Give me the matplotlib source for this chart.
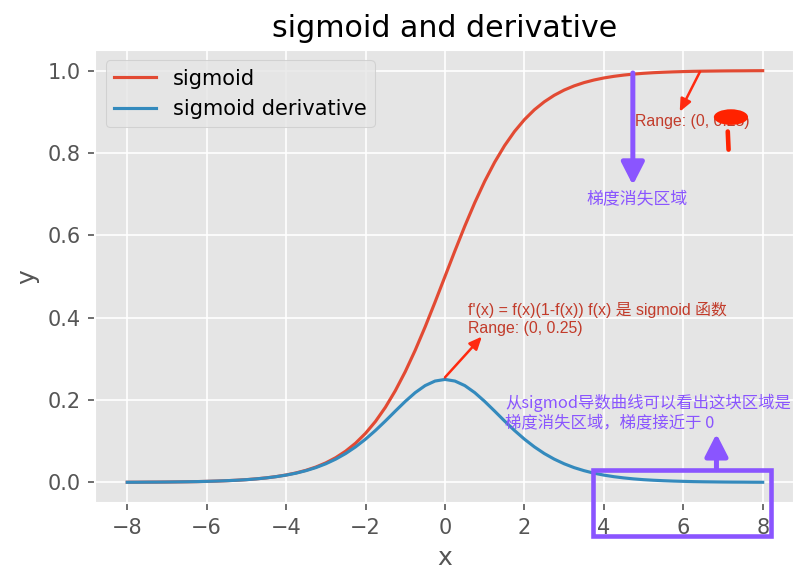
import matplotlib
matplotlib.use("Agg")
import matplotlib.pyplot as plt
from matplotlib.patches import Rectangle, Ellipse

plt.style.use("ggplot")

x_vals = [-8.0, -7.75, -7.5, -7.25, -7.0, -6.75, -6.5, -6.25, -6.0, -5.75, -5.5, -5.25,
          -5.0, -4.75, -4.5, -4.25, -4.0, -3.75, -3.5, -3.25, -3.0, -2.75, -2.5, -2.25,
          -2.0, -1.75, -1.5, -1.25, -1.0, -0.75, -0.5, -0.25, 0.0, 0.25, 0.5, 0.75,
          1.0, 1.25, 1.5, 1.75, 2.0, 2.25, 2.5, 2.75, 3.0, 3.25, 3.5, 3.75,
          4.0, 4.25, 4.5, 4.75, 5.0, 5.25, 5.5, 5.75, 6.0, 6.25, 6.5, 6.75,
          7.0, 7.25, 7.5, 7.75, 8.0]

sigmoid_vals = [0.0003, 0.0004, 0.0006, 0.0007, 0.0009, 0.0012, 0.0015, 0.0019, 0.0025,
                0.0032, 0.0041, 0.0052, 0.0067, 0.0086, 0.0110, 0.0141, 0.0180, 0.0230,
                0.0293, 0.0373, 0.0474, 0.0601, 0.0759, 0.0953, 0.1192, 0.1480, 0.1824,
                0.2227, 0.2689, 0.3208, 0.3775, 0.4378, 0.5000, 0.5622, 0.6225, 0.6792,
                0.7311, 0.7773, 0.8176, 0.8520, 0.8808, 0.9047, 0.9241, 0.9399, 0.9526,
                0.9627, 0.9707, 0.9770, 0.9820, 0.9859, 0.9890, 0.9914, 0.9933, 0.9948,
                0.9959, 0.9968, 0.9975, 0.9981, 0.9985, 0.9988, 0.9991, 0.9993, 0.9994,
                0.9996, 0.9997]

derivative_vals = [0.0003, 0.0004, 0.0006, 0.0007, 0.0009, 0.0012, 0.0015, 0.0019, 0.0025,
                   0.0032, 0.0041, 0.0052, 0.0066, 0.0085, 0.0109, 0.0139, 0.0177, 0.0224,
                   0.0285, 0.0359, 0.0452, 0.0565, 0.0701, 0.0863, 0.1050, 0.1261, 0.1491,
                   0.1731, 0.1966, 0.2179, 0.2350, 0.2461, 0.2500, 0.2461, 0.2350, 0.2179,
                   0.1966, 0.1731, 0.1491, 0.1261, 0.1050, 0.0863, 0.0701, 0.0565, 0.0452,
                   0.0359, 0.0285, 0.0224, 0.0177, 0.0139, 0.0109, 0.0085, 0.0066, 0.0052,
                   0.0041, 0.0032, 0.0025, 0.0019, 0.0015, 0.0012, 0.0009, 0.0007, 0.0006,
                   0.0004, 0.0003]

series_labels = ["sigmoid", "sigmoid derivative"]
title_text = "sigmoid and derivative"

RED_TEXT = "#c23b2a"
RED_ARROW = "#ff2a10"
PURPLE = "#8a55ff"
CJK_SANS = ["Liberation Sans", "Noto Sans CJK SC"]
CJK_PURPLE = ["Noto Sans CJK SC", "DejaVu Sans"]

fig = plt.figure(figsize=(807 / 150, 585 / 150), dpi=150)
ax = fig.add_axes([0.1183, 0.1402, 0.8662, 0.7744])

ax.plot(x_vals, sigmoid_vals, label=series_labels[0])
ax.plot(x_vals, derivative_vals, label=series_labels[1])
ax.set_title(title_text)
ax.set_xlabel("x")
ax.set_ylabel("y")
ax.legend(loc="upper left")

# red annotation near derivative peak
ax.text(0.58, 0.397, "f'(x) = f(x)(1-f(x)) f(x) 是 sigmoid 函数\nRange: (0, 0.25)",
        color=RED_TEXT, fontsize=7.6, family=CJK_SANS, va="center", ha="left",
        linespacing=1.2)
ax.annotate("", xy=(0.93, 0.354), xytext=(0.0, 0.255),
            arrowprops=dict(arrowstyle="-|>,head_length=0.5,head_width=0.22",
                            color=RED_ARROW, lw=1.2, shrinkA=0, shrinkB=0))

# red annotation top right
ax.text(4.78, 0.876, "Range: (0, 0.25)", color=RED_TEXT, fontsize=7.6,
        family=CJK_SANS, va="center", ha="left")
ax.annotate("", xy=(5.91, 0.90), xytext=(6.42, 0.997),
            arrowprops=dict(arrowstyle="-|>,head_length=0.5,head_width=0.22",
                            color=RED_ARROW, lw=1.2, shrinkA=0, shrinkB=0))
ax.add_patch(Ellipse((7.2, 0.887), 0.86, 0.038, facecolor="#ff2200",
                     edgecolor="none", zorder=5))
ax.plot([7.12, 7.14], [0.852, 0.808], color="#ff2200", lw=2.2,
        solid_capstyle="round", zorder=5)

# purple arrow down
ax.annotate("", xy=(4.73, 0.722), xytext=(4.73, 0.994),
            arrowprops=dict(arrowstyle="-|>,head_length=0.9,head_width=0.46",
                            color=PURPLE, lw=2.4, shrinkA=0, shrinkB=0))
ax.text(4.83, 0.689, "梯度消失区域", color=PURPLE, fontsize=8.1,
        family=CJK_PURPLE, ha="center", va="center")

# purple text + arrow up + box
ax.text(1.51, 0.17, "从sigmod导数曲线可以看出这块区域是\n梯度消失区域，梯度接近于 0",
        color=PURPLE, fontsize=7.85, family=CJK_PURPLE, ha="left", va="center",
        linespacing=1.2, clip_on=False)
ax.annotate("", xy=(6.835, 0.118), xytext=(6.835, 0.031),
            arrowprops=dict(arrowstyle="-|>,head_length=0.9,head_width=0.46",
                            color=PURPLE, lw=2.4, shrinkA=0, shrinkB=0))
ax.add_patch(Rectangle((3.72, -0.129), 4.5, 0.158, fill=False, edgecolor=PURPLE,
                       lw=2.2, clip_on=False, zorder=6))

ax.set_xlim(-8.8, 8.8)
ax.set_ylim(-0.05, 1.05)

fig.savefig("out.png", dpi=150)
